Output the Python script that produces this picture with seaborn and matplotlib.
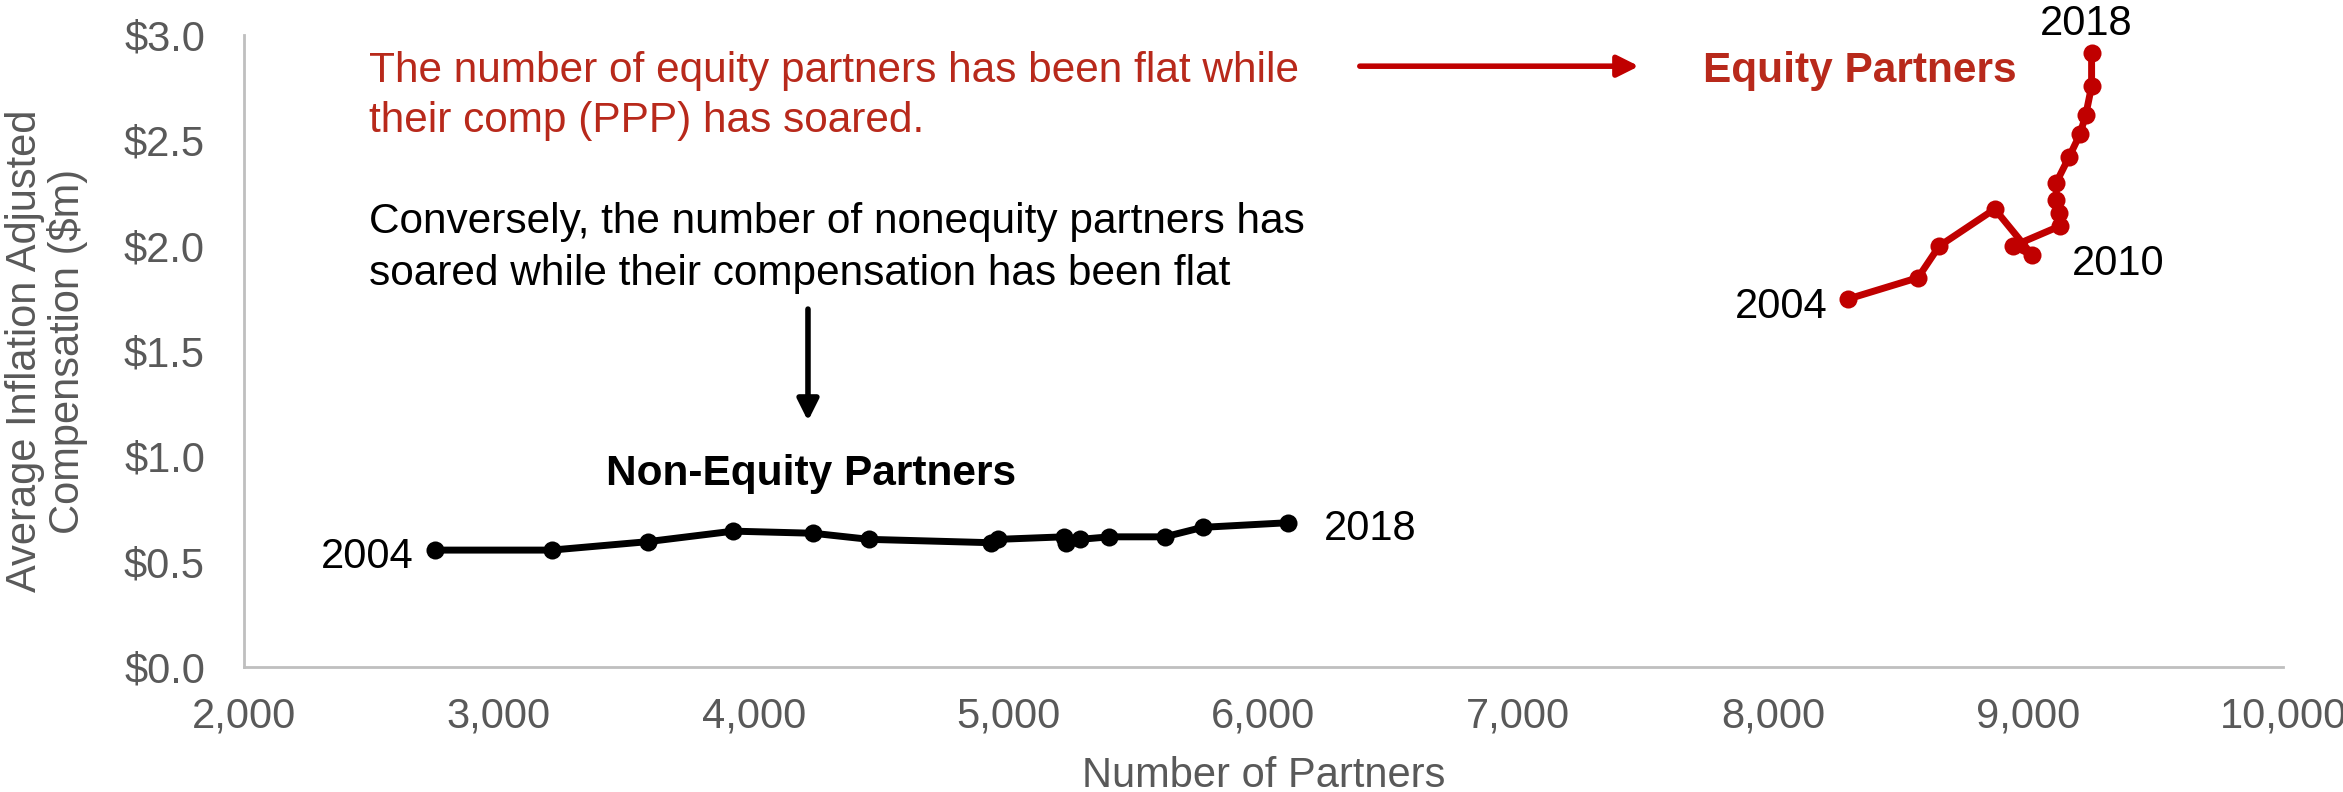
import numpy as np
import pandas as pd
import matplotlib
matplotlib.use("Agg")
import matplotlib.pyplot as plt
from matplotlib.ticker import MultipleLocator, FuncFormatter
import seaborn as sns

# Average inflation-adjusted compensation ($m) vs. number of partners, 2004-2018
years = list(range(2004, 2019))

nonequity_partners = [2749, 3207, 3584, 3920, 4233, 4453, 4933, 4959,
                      5217, 5227, 5280, 5395, 5613, 5761, 6097]
nonequity_comp = [0.555, 0.555, 0.595, 0.645, 0.635, 0.606, 0.590, 0.606,
                  0.618, 0.587, 0.606, 0.618, 0.618, 0.663, 0.685]

equity_partners = [8294, 8568, 8651, 8869, 9017, 8941, 9124, 9122,
                   9111, 9109, 9161, 9203, 9226, 9249, 9249]
equity_comp = [1.747, 1.848, 1.998, 2.174, 1.955, 1.998, 2.093, 2.153,
               2.216, 2.296, 2.422, 2.528, 2.620, 2.757, 2.913]

groups = ["Non-Equity Partners", "Equity Partners"]
x_ticks = [2000, 3000, 4000, 5000, 6000, 7000, 8000, 9000, 10000]
y_ticks = [0.0, 0.5, 1.0, 1.5, 2.0, 2.5, 3.0]

df = pd.DataFrame({
    "year": years * 2,
    "partners": nonequity_partners + equity_partners,
    "comp": nonequity_comp + equity_comp,
    "group": [groups[0]] * len(years) + [groups[1]] * len(years),
})

RED = "#C00000"
RED_TEXT = "#B8291B"
GRAY_TEXT = "#595959"
AXIS_GRAY = "#BFBFBF"
TEXT_SIZE = 30.5

sns.set_theme(style="white")
plt.rcParams["font.family"] = ["Liberation Sans", "DejaVu Sans"]

fig = plt.figure(figsize=(23.43, 7.92), dpi=100)
ax = fig.add_axes([0.1041, 0.1578, 0.8703, 0.798])

sns.lineplot(data=df, x="partners", y="comp", hue="group", units="group",
             estimator=None, sort=False, palette={groups[0]: "black", groups[1]: RED},
             marker="o", markersize=13, markeredgewidth=0, linewidth=5,
             legend=False, ax=ax)

ax.set_xlim(2000, 10000)
ax.set_ylim(0, 3)
ax.set_xticks(x_ticks)
ax.set_yticks(y_ticks)
ax.yaxis.set_minor_locator(MultipleLocator(0.1))
ax.xaxis.set_major_formatter(FuncFormatter(lambda v, p: f"{v:,.0f}"))
ax.yaxis.set_major_formatter(FuncFormatter(lambda v, p: f"${v:.1f}"))

for side in ("top", "right"):
    ax.spines[side].set_visible(False)
for side in ("left", "bottom"):
    ax.spines[side].set_color(AXIS_GRAY)
    ax.spines[side].set_linewidth(2)

ax.tick_params(axis="y", which="major", direction="in", length=8, width=2,
               color=AXIS_GRAY, labelsize=30, labelcolor=GRAY_TEXT, pad=28)
ax.tick_params(axis="y", which="minor", direction="in", length=7, width=2,
               color=AXIS_GRAY)
ax.tick_params(axis="x", which="both", length=0, labelsize=30,
               labelcolor=GRAY_TEXT, pad=21)

ax.set_xlabel("Number of Partners", fontsize=30, color=GRAY_TEXT, labelpad=14)
ax.set_ylabel("Average Inflation Adjusted\nCompensation ($m)", fontsize=30,
              color=GRAY_TEXT, labelpad=26, linespacing=1.05)
ax.grid(False)

# Commentary
ax.text(2490, 2.776, "The number of equity partners has been flat while",
        fontsize=TEXT_SIZE, color=RED_TEXT, va="baseline", ha="left")
ax.text(2490, 2.541, "their comp (PPP) has soared.",
        fontsize=TEXT_SIZE, color=RED_TEXT, va="baseline", ha="left")
ax.text(2490, 2.060, "Conversely, the number of nonequity partners has",
        fontsize=TEXT_SIZE, color="black", va="baseline", ha="left")
ax.text(2490, 1.813, "soared while their compensation has been flat",
        fontsize=TEXT_SIZE, color="black", va="baseline", ha="left")

ax.annotate("", xy=(7473, 2.852), xytext=(6378, 2.852),
            arrowprops=dict(arrowstyle="-|>", color=RED, lw=4,
                            mutation_scale=32, shrinkA=0, shrinkB=0))
ax.annotate("", xy=(4213, 1.168), xytext=(4213, 1.699),
            arrowprops=dict(arrowstyle="-|>", color="black", lw=4,
                            mutation_scale=32, shrinkA=0, shrinkB=0))

# Series labels
ax.text(7725, 2.778, "Equity Partners", fontsize=TEXT_SIZE, fontweight="bold",
        color=RED_TEXT, va="baseline", ha="left")
ax.text(4224, 0.864, "Non-Equity Partners", fontsize=TEXT_SIZE, fontweight="bold",
        color="black", va="baseline", ha="center")

# Year markers
ax.text(2667, 0.470, "2004", fontsize=30, color="black", va="baseline", ha="right")
ax.text(6237, 0.603, "2018", fontsize=30, color="black", va="baseline", ha="left")
ax.text(8214, 1.656, "2004", fontsize=30, color="black", va="baseline", ha="right")
ax.text(9171, 1.860, "2010", fontsize=30, color="black", va="baseline", ha="left")
ax.text(9046, 3.000, "2018", fontsize=30, color="black", va="baseline", ha="left",
        clip_on=False)

fig.savefig("out.png", dpi=100)
